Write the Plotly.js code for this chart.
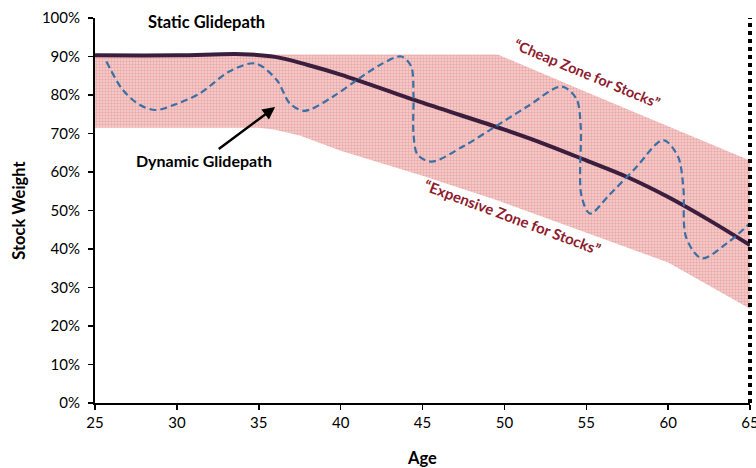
<!DOCTYPE html>
<html>
<head>
<meta charset="utf-8">
<script src="https://cdn.plot.ly/plotly-3.0.1.min.js"></script>
<style>html,body{margin:0;padding:0;background:#fff;}#chart{width:756px;height:468px;}</style>
</head>
<body>
<div id="chart"></div>
<script>
// Band ("zone") bounds, % stock weight by age
const bandAges  = [25, 35, 36, 37.5, 40, 45, 49.6, 55, 60, 65];
const bandUpper = [90.5, 90.5, 90.5, 90.5, 90.5, 90.5, 90.5, 80.8, 71.9, 63.0];
const bandLower = [71.5, 71.5, 71.0, 69.5, 65.5, 59.0, 52.6, 44.3, 36.5, 24.5];

// Static glidepath
const staticAges   = [25, 30, 34, 36, 38, 40, 45, 50, 52.5, 55, 57.5, 60, 62.5, 65];
const staticValues = [90.3, 90.3, 90.6, 89.9, 87.8, 85.3, 78.0, 71.0, 67.2, 63.0, 58.7, 53.5, 47.5, 41.0];

// Dynamic glidepath
const dynamicAges   = [25.7, 26.7, 27.75, 28.7, 29.8, 31.4, 33.2, 34.8, 36.1, 36.9, 37.8, 39.5, 41.0, 42.4, 43.7, 44.3, 44.45, 44.45, 44.7, 45.56, 47.5, 49.3, 51.4, 53.5, 54.4, 54.66, 54.7, 55.23, 56.4, 58.0, 59.7, 60.6, 60.93, 61.1, 62.05, 63.6, 65];
const dynamicValues = [88.7, 81.3, 77.4, 76.1, 77.4, 80.4, 86.1, 88.2, 83.9, 77.8, 75.9, 79.5, 83.9, 87.8, 90.0, 87.5, 80.0, 70.0, 64.5, 62.7, 66.7, 71.4, 77.0, 82.2, 79.0, 72.0, 54.0, 49.2, 54.0, 61.0, 68.3, 64.0, 56.0, 43.0, 37.6, 41.5, 46.7];

const retirementAge = 65;

const xRange = [25, 65];
const yRange = [0, 100];
const xTicks = [25, 30, 35, 40, 45, 50, 55, 60, 65];
const yTicks = [0, 10, 20, 30, 40, 50, 60, 70, 80, 90, 100];

const FONT = 'Lato, "Open Sans", sans-serif';
const ZONE_RED = '#8E1B2E';

const traces = [
  {x: bandAges, y: bandLower, mode: 'lines', line: {width: 0, color: 'rgba(0,0,0,0)'}, hoverinfo: 'skip', showlegend: false},
  {x: bandAges, y: bandUpper, mode: 'lines', line: {width: 0, color: 'rgba(0,0,0,0)'}, fill: 'tonexty',
   fillcolor: '#F3BDBD',
   fillpattern: {shape: '+', size: 3, solidity: 0.3, bgcolor: '#F5C8C8', fgcolor: '#E7A0A0'},
   hoverinfo: 'skip', showlegend: false},
  {x: staticAges, y: staticValues, mode: 'lines', line: {color: '#3B1E3E', width: 4, shape: 'spline', smoothing: 1},
   cliponaxis: false, showlegend: false},
  {x: dynamicAges, y: dynamicValues, mode: 'lines', line: {color: '#3A6FA6', width: 2.2, dash: '7px,4px', shape: 'spline', smoothing: 0.9},
   cliponaxis: false, showlegend: false}
];

// Retirement marker line, placed in paper units derived from the x range so it is not clipped
const retX = (retirementAge - xRange[0]) / (xRange[1] - xRange[0]);

const layout = {
  width: 756, height: 468,
  margin: {l: 95, r: 6, t: 18, b: 65},
  paper_bgcolor: '#fff', plot_bgcolor: '#fff',
  font: {family: FONT, size: 15, color: '#000'},
  showlegend: false,
  xaxis: {
    range: xRange, tickvals: xTicks, ticktext: xTicks.map(String),
    showgrid: false, zeroline: false, showline: true, linecolor: '#000', linewidth: 2,
    ticks: 'outside', ticklen: 5, tickwidth: 1.5, tickcolor: '#000',
    ticklabeloverflow: 'allow',
    tickfont: {family: FONT, size: 15},
    title: {text: '<b>Age</b>', font: {family: FONT, size: 16.5}, standoff: 22}
  },
  yaxis: {
    range: yRange, tickvals: yTicks, ticktext: yTicks.map(v => v + '%'),
    showgrid: false, zeroline: false, showline: true, linecolor: '#000', linewidth: 2,
    ticks: 'outside', ticklen: 5, tickwidth: 1.5, tickcolor: '#000',
    ticklabelstandoff: 5,
    tickfont: {family: FONT, size: 15},
    title: {text: '<b>Stock Weight</b>', font: {family: FONT, size: 16.5}, standoff: 12}
  },
  shapes: [
    {type: 'line', xref: 'paper', yref: 'paper', x0: retX, x1: retX, y0: 0, y1: 1, layer: 'above',
     line: {color: '#000', width: 4, dash: '4px,4px'}}
  ],
  annotations: [
    {x: 31.8, y: 99, xref: 'x', yref: 'y', text: '<b>Static Glidepath</b>', showarrow: false,
     font: {family: FONT, size: 16.5, color: '#000'}},
    {x: 36.0, y: 76.9, xref: 'x', yref: 'y', ax: 31.66, ay: 63.1, axref: 'x', ayref: 'y',
     text: '<b>Dynamic Glidepath</b>', showarrow: true, arrowhead: 2, arrowsize: 1, arrowwidth: 2.5, arrowcolor: '#000',
     font: {family: FONT, size: 16, color: '#000'}},
    {x: 55.05, y: 85.7, xref: 'x', yref: 'y', text: '<b>\u201cCheap Zone for Stocks\u201d</b>', showarrow: false,
     textangle: 22.5, font: {family: FONT, size: 14.5, color: ZONE_RED}},
    {x: 50.5, y: 48.3, xref: 'x', yref: 'y', text: '<b>\u201cExpensive Zone for Stocks\u201d</b>', showarrow: false,
     textangle: 20.5, font: {family: FONT, size: 15, color: ZONE_RED}}
  ]
};

Plotly.newPlot('chart', traces, layout, {staticPlot: true, displayModeBar: false});
</script>
</body>
</html>
